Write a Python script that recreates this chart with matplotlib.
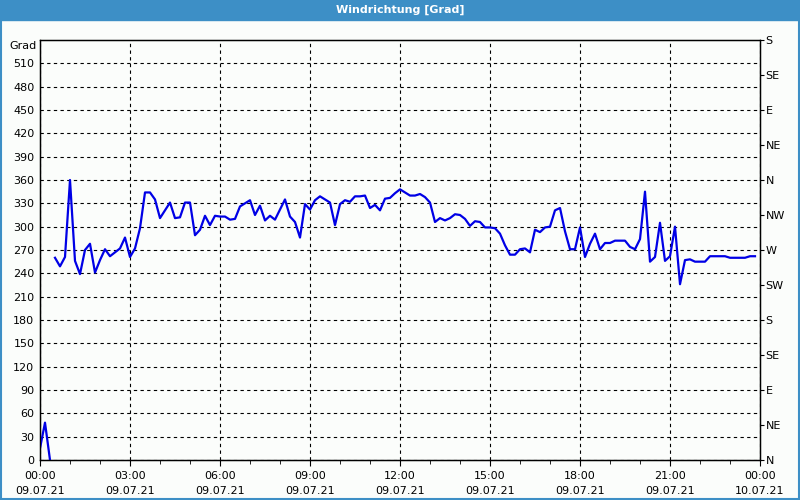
import numpy as np
import pandas as pd
import matplotlib
matplotlib.use("Agg")
import matplotlib.pyplot as plt
import matplotlib.dates as mdates

title = "Windrichtung [Grad]"
unit_label = "Grad"

# 10-minute readings, 09.07.21 00:00 - 23:50
start_time = "2021-07-09 00:00"
end_time = "2021-07-10 00:00"
directions = [
    15, 48, 0, 260, 249, 261, 360, 256, 239, 270,
    278, 241, 257, 271, 262, 267, 272, 286, 261, 272,
    298, 344, 344, 335, 311, 321, 331, 311, 312, 331,
    331, 289, 296, 314, 302, 314, 313, 313, 309, 310,
    326, 330, 334, 315, 327, 308, 314, 309, 322, 335,
    313, 306, 286, 329, 322, 334, 339, 335, 331, 302,
    329, 334, 332, 339, 339, 340, 324, 328, 321, 336,
    337, 343, 348, 344, 340, 340, 342, 338, 331, 306,
    311, 308, 311, 316, 315, 310, 301, 307, 306, 299,
    299, 298, 291, 276, 264, 264, 271, 272, 267, 296,
    293, 299, 300, 321, 324, 294, 271, 271, 299, 261,
    278, 291, 271, 279, 279, 282, 282, 282, 274, 271,
    284, 345, 255, 261, 305, 256, 262, 300, 226, 257,
    258, 255, 255, 255, 262, 262, 262, 262, 260, 260,
    260, 260, 262, 262,
]

left_ticks = list(range(0, 540, 30))
compass_ticks = list(range(0, 541, 45))
compass_labels = ["N", "NE", "E", "SE", "S", "SW", "W", "NW", "N", "NE", "E", "SE", "S"]

times = pd.date_range(start_time, periods=len(directions), freq="10min")
vals = np.array(directions, dtype=float)

# break the line where the direction wraps around
x_plot, y_plot = [], []
for i, (t, v) in enumerate(zip(times, vals)):
    if i > 0 and abs(v - vals[i - 1]) > 180:
        x_plot.append(t)
        y_plot.append(np.nan)
    x_plot.append(t)
    y_plot.append(v)

bg = "#fbfdfb"
frame_blue = "#3d8fc6"

fig = plt.figure(figsize=(8, 5), dpi=100, facecolor=bg)
ax = fig.add_axes([0.05, 0.08, 0.90, 0.84], facecolor=bg)

ax.plot(x_plot, y_plot, color="#0000e6", linewidth=1.6, zorder=3)

ax.set_ylim(0, 540)
ax.set_xlim(pd.Timestamp(start_time), pd.Timestamp(end_time))
ax.set_yticks(left_ticks)
ax.tick_params(axis="y", labelsize=8, length=0, pad=4)

ax.xaxis.set_major_locator(mdates.HourLocator(byhour=range(0, 24, 3)))
ax.xaxis.set_minor_locator(mdates.HourLocator())
ax.xaxis.set_major_formatter(mdates.DateFormatter("%H:%M\n%d.%m.%y"))
ax.tick_params(axis="x", which="major", labelsize=8, length=4, pad=4)
ax.tick_params(axis="x", which="minor", length=3)
for lab in ax.get_xticklabels():
    lab.set_linespacing(1.6)

ax.grid(True, color="black", linestyle=(0, (3, 3)), linewidth=0.8)
for s in ax.spines.values():
    s.set_color("black")
    s.set_linewidth(1)

ax2 = ax.twinx()
ax2.set_ylim(0, 540)
ax2.set_yticks(compass_ticks)
ax2.set_yticklabels(compass_labels)
ax2.tick_params(axis="y", labelsize=8, length=3, pad=1)

fig.text(0.046, 0.908, unit_label, fontsize=8, ha="right", va="center")

# title bar and frame
fig.patches.append(plt.Rectangle((0, 0.96), 1, 0.04, transform=fig.transFigure,
                                 color=frame_blue, zorder=0))
fig.patches.append(plt.Rectangle((0.001, 0.002), 0.998, 0.996, transform=fig.transFigure,
                                 fill=False, edgecolor=frame_blue, linewidth=1.5))
fig.text(0.5, 0.98, title, color="white", fontsize=8, fontweight="bold",
         ha="center", va="center")

fig.savefig("out.png", dpi=100, facecolor=bg)
